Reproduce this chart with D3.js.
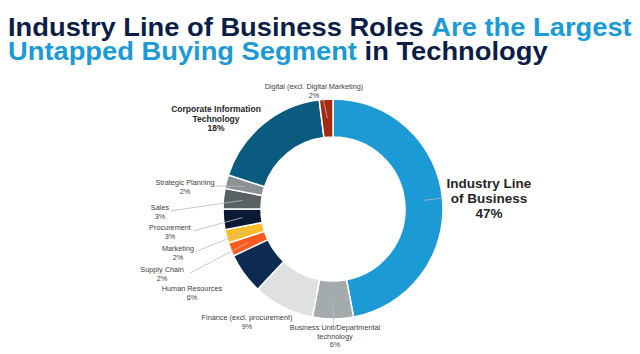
<!DOCTYPE html>
<html>
<head>
<meta charset="utf-8">
<script src="https://cdn.jsdelivr.net/npm/d3@7"></script>
<style>
  body { margin: 0; background: #fff; }
  svg { font-family: "Liberation Sans", Arial, sans-serif; }
</style>
</head>
<body>
<svg class="donut" width="640" height="354"></svg>
<script>
const categories = [
  'Industry Line of Business',
  'Business Unit/Departmental technology',
  'Finance (excl. procurement)',
  'Human Resources',
  'Supply Chain',
  'Marketing',
  'Procurement',
  'Sales',
  'Strategic Planning',
  'Corporate Information Technology',
  'Digital (excl. Digital Marketing)'
];
const shares = [47, 6, 9, 6, 2, 2, 3, 3, 2, 18, 2];
const colors = ['#1b9ad6', '#a4abad', '#dfe1e1', '#0d2a52', '#fd5a1e', '#fbbd2b',
  '#0b1933', '#596164', '#8c9294', '#0b5a80', '#a22a10'];

// label lines (text split for wrapping) and placement
const labelLines = [
  ['Industry Line', 'of Business'],
  ['Business Unit/Departmental', 'technology'],
  ['Finance (excl. procurement)'],
  ['Human Resources'],
  ['Supply Chain'],
  ['Marketing'],
  ['Procurement'],
  ['Sales'],
  ['Strategic Planning'],
  ['Corporate Information', 'Technology'],
  ['Digital (excl. Digital Marketing)']
];
const labelLayout = [
  { x: 489, y: 188, size: 13.5, lh: 15, bold: true, lx: 443, ly: 198 },
  { x: 335, y: 330, size: 7.3, lh: 8.5, lx: 334, ly: 325 },
  { x: 247, y: 320, size: 7.3, lh: 8.5 },
  { x: 192, y: 291, size: 7.3, lh: 8.5 },
  { x: 162, y: 272, size: 7.3, lh: 8.5, lx: 190, ly: 273 },
  { x: 178, y: 251, size: 7.3, lh: 8.5, lx: 195, ly: 252 },
  { x: 170, y: 230, size: 7.3, lh: 8.5, lx: 193, ly: 231 },
  { x: 160, y: 210, size: 7.3, lh: 8.5, lx: 170, ly: 211 },
  { x: 185, y: 185, size: 7.3, lh: 8.5, lx: 214, ly: 186 },
  { x: 216, y: 112, size: 8.5, lh: 9.5, bold: true },
  { x: 314, y: 89, size: 7.3, lh: 8.5, lx: 323, ly: 98 }
];

const data = categories.map((c, i) => ({ name: c, value: shares[i], color: colors[i], lines: labelLines[i], pos: labelLayout[i] }));

const svg = d3.select('.donut');
const cx = 333, cy = 209;
const outerR = 110, innerR = 72;

// title (reference type is a bit wider than Liberation Sans, so stretch it)
const title = svg.append('g')
  .attr('transform', 'translate(8,0) scale(1.093,1)')
  .append('text')
  .attr('font-weight', 'bold')
  .attr('font-size', 25);
const t1 = title.append('tspan').attr('x', 0).attr('y', 36);
t1.append('tspan').attr('fill', '#0c1e48').text('Industry Line of Business Roles ');
t1.append('tspan').attr('fill', '#1b9ad6').text('Are the Largest');
const t2 = title.append('tspan').attr('x', 0).attr('y', 60);
t2.append('tspan').attr('fill', '#1b9ad6').text('Untapped Buying Segment');
t2.append('tspan').attr('fill', '#0c1e48').text(' in Technology');

const pie = d3.pie().value(d => d.value).sort(null);
const arc = d3.arc().innerRadius(innerR).outerRadius(outerR);
const arcs = pie(data);

const g = svg.append('g').attr('transform', `translate(${cx},${cy})`);

g.selectAll('path.slice')
  .data(arcs)
  .enter()
  .append('path')
  .attr('class', 'slice')
  .attr('d', arc)
  .attr('fill', d => d.data.color)
  .attr('stroke', '#fff')
  .attr('stroke-width', 1.5);

// leader lines from slice centroid to label
g.selectAll('line.leader')
  .data(arcs.filter(d => d.data.pos.lx !== undefined))
  .enter()
  .append('line')
  .attr('class', 'leader')
  .attr('x1', d => arc.centroid(d)[0])
  .attr('y1', d => arc.centroid(d)[1])
  .attr('x2', d => d.data.pos.lx - cx)
  .attr('y2', d => d.data.pos.ly - cy)
  .attr('stroke', '#b8bcbe')
  .attr('stroke-width', 0.8);

const labels = svg.selectAll('text.label')
  .data(arcs)
  .enter()
  .append('text')
  .attr('class', 'label')
  .attr('text-anchor', 'middle')
  .attr('font-size', d => d.data.pos.size)
  .attr('font-weight', d => d.data.pos.bold ? 'bold' : 'normal')
  .attr('fill', d => d.data.pos.bold ? '#262626' : '#404040');

labels.each(function (d) {
  const p = d.data.pos;
  const lines = d.data.lines.concat([d.data.value + '%']);
  d3.select(this).selectAll('tspan')
    .data(lines)
    .enter()
    .append('tspan')
    .attr('x', p.x)
    .attr('y', (l, i) => p.y + i * p.lh)
    .text(l => l);
});
</script>
</body>
</html>
